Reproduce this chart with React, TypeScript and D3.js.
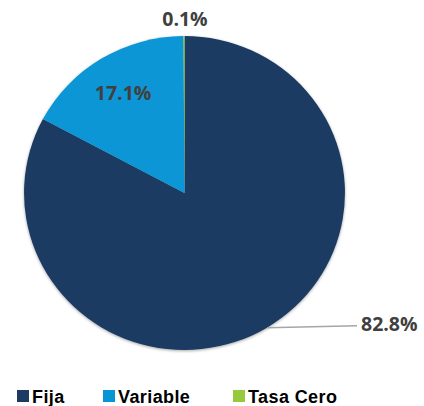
import { useEffect, useRef } from 'react';
import * as d3 from 'd3';

const categories = ['Fija', 'Variable', 'Tasa Cero'];
const values = [82.8, 17.1, 0.1];
const labels = ['82.8%', '17.1%', '0.1%'];
const colors = ['#1c3a62', '#0796d5', '#97c93d'];

export default function App() {
  const svgRef = useRef<SVGSVGElement>(null);

  useEffect(() => {
    const width = 424;
    const height = 406;
    const cx = 184.5;
    const cy = 193;
    const radius = 157;
    const sx = 1.022; // pie is slightly wider than tall in the original

    const svg = d3.select(svgRef.current);
    svg.selectAll('*').remove();
    svg.attr('width', width).attr('height', height);

    const defs = svg.append('defs');
    const f = defs.append('filter').attr('id', 'sh').attr('x', '-10%').attr('y', '-10%').attr('width', '120%').attr('height', '120%');
    f.append('feDropShadow')
      .attr('dx', 0).attr('dy', 1).attr('stdDeviation', 1.5)
      .attr('flood-color', '#000').attr('flood-opacity', 0.35);

    const data = categories.map((c, i) => ({ name: c, value: values[i], label: labels[i], color: colors[i] }));

    const pie = d3.pie<any>().value(d => d.value).sort(null);
    const arcs = pie(data);
    const arc = d3.arc<any>().innerRadius(0).outerRadius(radius);

    const g = svg.append('g').attr('transform', `translate(${cx},${cy})`);

    g.append('g')
      .attr('transform', `scale(${sx},1)`)
      .attr('filter', 'url(#sh)')
      .selectAll('path')
      .data(arcs)
      .join('path')
      .attr('d', arc)
      .attr('fill', d => d.data.color);

    const labelFont = '"Open Sans", "Noto Sans", sans-serif';
    const mid = (d: any) => (d.startAngle + d.endAngle) / 2;
    const addLabel = (x: number, y: number, t: string, anchor: string) =>
      g.append('text')
        .attr('x', x).attr('y', y)
        .attr('dy', '0.35em')
        .attr('text-anchor', anchor)
        .attr('fill', '#404040')
        .style('font-family', labelFont)
        .style('font-weight', 'bold')
        .style('font-size', '19.5px')
        .text(t);

    // Fija: leader line out to the right
    const a0 = arcs[0];
    const m0 = mid(a0);
    const p0 = [Math.sin(m0) * radius * sx, -Math.cos(m0) * radius];
    const lineEnd = 357 - cx;
    g.append('line')
      .attr('x1', p0[0]).attr('y1', p0[1])
      .attr('x2', lineEnd).attr('y2', p0[1] - 2)
      .attr('stroke', '#a6a6a6').attr('stroke-width', 1.5);
    addLabel(lineEnd + 4, p0[1] - 3, a0.data.label, 'start');

    // Variable: inside
    const a1 = arcs[1];
    const m1 = mid(a1);
    const r1 = radius * 0.74;
    addLabel(Math.sin(m1) * r1 * sx, -Math.cos(m1) * r1, a1.data.label, 'middle');

    // Tasa Cero: outside top
    const a2 = arcs[2];
    const m2 = mid(a2);
    const r2 = radius + 17;
    addLabel(Math.sin(m2) * r2 + 1, -Math.cos(m2) * r2, a2.data.label, 'middle');

    // Legend
    const legendX = [17, 103, 233];
    const legend = svg.append('g').attr('transform', 'translate(0,396)');
    const items = legend.selectAll('g')
      .data(data)
      .join('g')
      .attr('transform', (_d, i) => `translate(${legendX[i]},0)`);
    items.append('rect')
      .attr('x', 0).attr('y', -6)
      .attr('width', 12).attr('height', 12)
      .attr('fill', d => d.color);
    items.append('text')
      .attr('x', 15).attr('y', 1)
      .attr('dy', '0.35em')
      .attr('fill', '#000')
      .style('font-family', '"Liberation Sans", Arial, sans-serif')
      .style('font-weight', 'bold')
      .style('font-size', '18px')
      .style('letter-spacing', '0.4px')
      .text(d => d.name);
  }, []);

  return (
    <div style={{ position: 'absolute', left: 0, top: 0 }}>
      <svg ref={svgRef}></svg>
    </div>
  );
}
